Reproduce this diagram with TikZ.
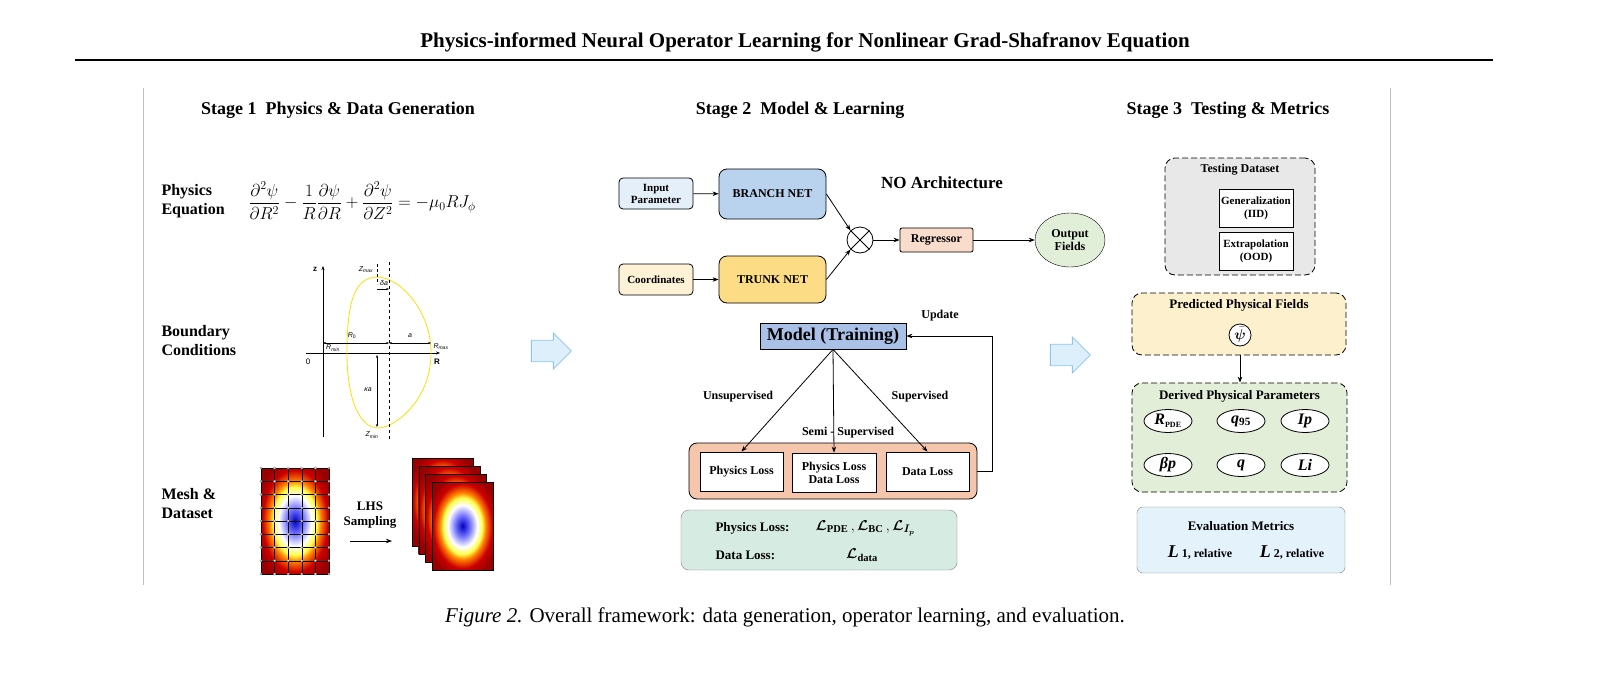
\documentclass[tikz,border=0pt]{standalone}
\usepackage{amsmath,amssymb,bm}
\usepackage{fontspec}
\setmainfont{Liberation Serif}
\newfontfamily\sans{Liberation Sans}
\usetikzlibrary{arrows.meta,shapes.geometric,shapes.arrows,positioning}
\pgfdeclareradialshading{heat}{\pgfpoint{0bp}{0bp}}{color(0bp)=(blue!75!black); color(6bp)=(blue!55); color(12bp)=(white); color(16bp)=(yellow!70); color(19bp)=(orange); color(24bp)=(red!80!black); color(30bp)=(red!60!black); color(100bp)=(red!60!black)}
\definecolor{inblue}{HTML}{E4EFFA}
\definecolor{branch}{HTML}{B9D3EE}
\definecolor{coord}{HTML}{FDF1D6}
\definecolor{trunk}{HTML}{FCDD86}
\definecolor{regr}{HTML}{F9DCCC}
\definecolor{outg}{HTML}{E1EFD9}
\definecolor{model}{HTML}{A9C1E6}
\definecolor{lossc}{HTML}{F6C6AC}
\definecolor{lossg}{HTML}{D6EBE1}
\definecolor{testg}{HTML}{E8E8E8}
\definecolor{predy}{HTML}{FDF0CC}
\definecolor{derg}{HTML}{E3EED9}
\definecolor{evalb}{HTML}{E3F2FB}
\definecolor{harrow}{HTML}{DCEFFB}
\definecolor{harrowd}{HTML}{8CC4EA}
\begin{document}
\begin{tikzpicture}[x=1pt,y=-1pt,
  every node/.style={font=\bfseries\fontsize{12}{13}\selectfont, align=center},
  box/.style={draw, thick, rounded corners=4pt, inner sep=0pt},
  wbox/.style={draw, thick, fill=white, inner sep=0pt},
  arr/.style={-{Stealth[length=6pt]}, thick},
  dbox/.style={draw, thick, dashed, dash pattern=on 6pt off 3pt, rounded corners=10pt},
  ell/.style={draw, thick, ellipse, fill=white, minimum width=48pt, minimum height=23pt, inner sep=0pt, font=\bfseries\itshape\fontsize{16}{16}\selectfont},
  lab/.style={anchor=west, align=left, font=\bfseries\fontsize{16}{19}\selectfont},
  stage/.style={font=\bfseries\fontsize{18}{20}\selectfont},
  hollow/.style={single arrow, draw=harrowd, fill=harrow, thick, minimum height=40pt, minimum width=36pt, single arrow head extend=5pt, inner sep=7pt}
]
\useasboundingbox (0,0) rectangle (1610,691);
\begin{pgfinterruptboundingbox}
% title
\node[font=\bfseries\fontsize{21}{24}\selectfont] (title) at (805,42) {Physics-informed Neural Operator Learning for Nonlinear Grad-Shafranov Equation};
\draw[line width=2pt] (75,60) -- (1493,60);
\draw[gray!50] (143,88) -- (143,585);
\draw[gray!50] (1390,88) -- (1390,585);
\node[stage] (s1) at (338,110) {Stage 1\ \ Physics \& Data Generation};
\node[stage] (s2) at (800,110) {Stage 2\ \ Model \& Learning};
\node[stage] (s3) at (1228,110) {Stage 3\ \ Testing \& Metrics};
% Stage 1
\node[lab] (pe) at (158,201) {Physics\\Equation};
\node[anchor=west, font=\fontsize{17}{17}\selectfont] (eq) at (245,201) {$\displaystyle \frac{\partial^2\psi}{\partial R^2}-\frac{1}{R}\frac{\partial\psi}{\partial R}+\frac{\partial^2\psi}{\partial Z^2}=-\mu_0 R J_\phi$};
\node[lab] (bc) at (158,341) {Boundary\\Conditions};
\node[lab] (md) at (158,504) {Mesh \&\\Dataset};
% BC diagram
\begin{scope}[every node/.style={font=\sans\fontsize{7}{8}\selectfont, inner sep=1pt}]
\draw[-{Stealth[length=4pt]}] (323,437) -- (323,266);
\draw[-{Stealth[length=4pt]}] (306,353) -- (440,353);
\node[font=\sans\bfseries\fontsize{8}{8}\selectfont] (zl) at (315,269) {z};
\node[font=\sans\bfseries\fontsize{8}{8}\selectfont] (rl) at (437,362) {R};
\node[font=\sans\fontsize{8}{8}\selectfont] (o) at (308,362) {0};
\draw[yellow!80!orange, thick] (378,277) .. controls (400,278) and (431,310) .. (431,353) .. controls (431,400) and (395,428) .. (378,428) .. controls (360,428) and (347,400) .. (347,353) .. controls (347,300) and (355,277) .. (378,277);
\draw[dashed] (389,262) -- (389,441);
\draw[densely dashed] (377,264) -- (377,284);
\draw[{Stealth[length=3pt]}-{Stealth[length=3pt]}] (323,343) -- (389,343);
\draw[{Stealth[length=3pt]}-{Stealth[length=3pt]}] (389,343) -- (431,343);
\draw[-{Stealth[length=3pt]}] (377,289) -- (389,289);
\draw[{Stealth[length=3pt]}-{Stealth[length=3pt]}] (377,355) -- (377,427);
\node (zmax) at (366,270) {\textit{Z\textsubscript{max}}};
\node (da) at (384,283) {\textit{δa}};
\node (r0) at (352,336) {\textit{R}\textsubscript{0}};
\node (aa) at (410,336) {\textit{a}};
\node (rmin) at (333,348) {\textit{R\textsubscript{min}}};
\node (rmax) at (441,347) {\textit{R\textsubscript{max}}};
\node (ka) at (368,390) {\textit{κa}};
\node (zmin) at (372,435) {\textit{Z\textsubscript{min}}};
\end{scope}
% mesh
\shade[shading=heat] (261,468) rectangle (329,574);
\foreach \i in {0,...,5} \draw (261+13.6*\i,468) -- (261+13.6*\i,574);
\foreach \j in {0,...,8} \draw (261,468+13.25*\j) -- (329,468+13.25*\j);
\foreach \i in {0,...,5} \foreach \j in {0,...,8} \draw[gray,line width=0.3pt,fill=white] (261+13.6*\i,468+13.25*\j) circle (1.2pt);
\node[font=\bfseries\fontsize{13}{15}\selectfont] (lhs) at (370,515) {LHS\\Sampling};
\coordinate (la) at (350,541); \coordinate (lb) at (392,541);
\draw[arr] (la) -- (lb);
\foreach \k in {0,1,2,3} {
  \shade[shading=heat, draw=black] (412+6.7*\k,458+8*\k) rectangle ++(61,88);
}
% hollow arrows
\node[hollow] (h1) at (546,351) {};
\node[hollow] (h2) at (1065,355) {};
% Stage 2
\node[box, fill=inblue, minimum width=74pt, minimum height=31pt, font=\bfseries\fontsize{11}{12}\selectfont] (ip) at (656,193.5) {Input\\Parameter};
\node[box, fill=branch, rounded corners=8pt, minimum width=107pt, minimum height=50pt] (br) at (772.5,194) {BRANCH NET};
\node[box, fill=coord, minimum width=74pt, minimum height=31pt, font=\bfseries\fontsize{11}{12}\selectfont] (co) at (656,279.5) {Coordinates};
\node[box, fill=trunk, rounded corners=8pt, minimum width=107pt, minimum height=47pt] (tr) at (772.5,279.5) {TRUNK NET};
\node[draw, thick, circle, minimum size=26pt, inner sep=0pt] (ot) at (860,240) {};
\draw[thick] (ot.north west) -- (ot.south east) (ot.north east) -- (ot.south west);
\node[box, fill=regr, rounded corners=2pt, minimum width=73pt, minimum height=24pt] (re) at (936.5,240) {Regressor};
\node[draw, ellipse, fill=outg, minimum width=70pt, minimum height=54pt, inner sep=0pt] (of) at (1070,240) {Output\\Fields};
\node[font=\bfseries\fontsize{17}{19}\selectfont] (noa) at (942,183) {NO Architecture};
\draw[arr] (ip) -- (br);
\draw[arr] (co) -- (tr);
\draw[arr] (br.east) -- (ot.north west);
\draw[arr] (tr.east) -- (ot.south west);
\draw[arr] (ot) -- (re);
\draw[arr] (re) -- (of);
\node[draw, thick, fill=model, minimum width=146pt, minimum height=26pt, inner sep=0pt, font=\bfseries\fontsize{18}{20}\selectfont] (mo) at (833,336) {Model (Training)};
\node[box, fill=lossc, rounded corners=8pt, minimum width=288pt, minimum height=56pt] (lc) at (833,471) {};
\node[wbox, minimum width=83pt, minimum height=39pt] (pl) at (741.5,471.5) {Physics Loss};
\node[wbox, minimum width=84pt, minimum height=39pt] (pd) at (834,472.5) {Physics Loss\\Data Loss};
\node[wbox, minimum width=83pt, minimum height=39pt] (dl) at (927.5,471.5) {Data Loss};
\draw[arr] (mo.south) -- (pl.north);
\draw[arr] (mo.south) -- (pd.north);
\draw[arr] (mo.south) -- (dl.north);
\node (un) at (738,397) {Unsupervised};
\node (su) at (920,397) {Supervised};
\node (se) at (848,433) {Semi - Supervised};
\coordinate (up) at (992,471);
\draw[arr] (lc.east) -- (up) |- (mo.east);
\node (upd) at (940,316) {Update};
\node[draw=gray, fill=lossg, rounded corners=8pt, minimum width=276pt, minimum height=60pt] (lg) at (819,540) {};
\node[anchor=west, font=\bfseries\fontsize{13}{15}\selectfont] (pll) at (712,528) {Physics Loss:};
\node[anchor=west, font=\bfseries\fontsize{13}{15}\selectfont] (dll) at (712,555) {Data Loss:};
\node[anchor=west, font=\fontsize{15}{15}\selectfont] (plm) at (812,528) {$\boldsymbol{\mathcal{L}}_{\mathbf{PDE}}\,,\boldsymbol{\mathcal{L}}_{\mathbf{BC}}\,,\boldsymbol{\mathcal{L}}_{\boldsymbol{I_p}}$};
\node[font=\fontsize{15}{15}\selectfont] (dlm) at (862,555) {$\boldsymbol{\mathcal{L}}_{\mathbf{data}}$};
% Stage 3
\node[dbox, fill=testg, minimum width=150pt, minimum height=117pt] (td) at (1240,216.5) {};
\node (tdt) at (1240,170) {Testing Dataset};
\node[wbox, minimum width=74pt, minimum height=38pt, font=\bfseries\fontsize{11}{13}\selectfont] (ge) at (1256,208) {Generalization\\(IID)};
\node[wbox, minimum width=74pt, minimum height=38pt, font=\bfseries\fontsize{11}{13}\selectfont] (ex) at (1256,251) {Extrapolation\\(OOD)};
\node[dbox, fill=predy, minimum width=214pt, minimum height=62pt] (pf) at (1239,324) {};
\node[font=\bfseries\fontsize{13}{14}\selectfont] (pft) at (1239,305) {Predicted Physical Fields};
\node[draw, thick, circle, fill=white, minimum size=22pt, inner sep=0pt, font=\fontsize{14}{14}\selectfont] (psi) at (1240,335) {$\boldsymbol{\bar{\psi}}$};
\node[dbox, fill=derg, minimum width=215pt, minimum height=109pt] (dp) at (1239.5,437.5) {};
\node[font=\bfseries\fontsize{13}{14}\selectfont] (dpt) at (1239.5,396) {Derived Physical Parameters};
\draw[arr] (pf.south -| psi) -- (dp.north -| psi);
\node[ell] (e1) at (1168,421) {R\textsubscript{\upshape\fontsize{8}{8}\selectfont PDE}};
\node[ell] (e2) at (1241,421) {q\textsubscript{\upshape 95}};
\node[ell] (e3) at (1305,421) {Ip};
\node[ell] (e4) at (1168,465) {βp};
\node[ell] (e5) at (1241,465) {q};
\node[ell] (e6) at (1305,465) {Li};
\node[draw=gray, fill=evalb, rounded corners=6pt, minimum width=208pt, minimum height=66pt] (em) at (1241,540) {};
\node[font=\bfseries\fontsize{13}{14}\selectfont] (emt) at (1241,526) {Evaluation Metrics};
\node[font=\bfseries\fontsize{12}{14}\selectfont] (l1) at (1200,553) {{\fontsize{18}{18}\selectfont\itshape L} 1, relative};
\node[font=\bfseries\fontsize{12}{14}\selectfont] (l2) at (1292,553) {{\fontsize{18}{18}\selectfont\itshape L} 2, relative};
% caption
\node[font=\fontsize{21}{24}\selectfont] (cap) at (785,617) {\textit{Figure 2.} Overall framework: data generation, operator learning, and evaluation.};
\end{pgfinterruptboundingbox}
\end{tikzpicture}
\end{document}
